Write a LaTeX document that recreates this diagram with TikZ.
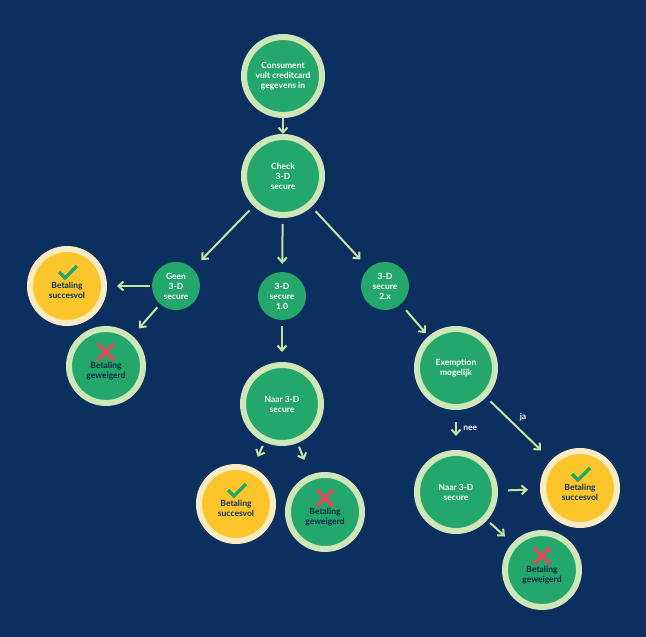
\documentclass[tikz,border=0pt]{standalone}
\usepackage{fontspec}
\setmainfont{Lato}
\usetikzlibrary{arrows.meta,calc}
\definecolor{navy}{HTML}{0B2F5E}
\definecolor{grn}{HTML}{23A76A}
\definecolor{ring}{HTML}{CFE6B8}
\definecolor{yel}{HTML}{FDC52C}
\definecolor{cream}{HTML}{FBEBC2}
\definecolor{arr}{HTML}{C5E3A2}
\definecolor{rd}{HTML}{E2475B}
\tikzset{x=1pt,y=-1pt,
  big/.style={circle,fill=grn,draw=ring,line width=6pt,minimum size=78pt,inner sep=0pt,align=center,text=white,font=\bfseries\fontsize{8.5}{10}\selectfont},
  small/.style={circle,fill=grn,minimum size=48pt,inner sep=0pt,align=center,text=white,font=\bfseries\fontsize{8.5}{10}\selectfont},
  okbox/.style={circle,fill=yel,draw=cream,line width=6pt,minimum size=74pt,inner sep=0pt,align=center,text=navy,font=\bfseries\fontsize{8.5}{10}\selectfont},
  nobox/.style={circle,fill=grn,draw=ring,line width=6pt,minimum size=74pt,inner sep=0pt,align=center,text=navy!80!black,font=\bfseries\fontsize{8.5}{10}\selectfont},
  arw/.style={draw=arr,line width=2pt,-{Straight Barb[length=5pt,width=9pt]},shorten <=6pt,shorten >=7pt},
  lbl/.style={text=white,font=\bfseries\fontsize{8.5}{10}\selectfont}
}
\newcommand{\okmark}[1]{\draw[grn,line width=3.5pt] ($(#1)+(-8,-14)$) -- ($(#1)+(-2,-8)$) -- ($(#1)+(10,-20)$);}
\newcommand{\nomark}[1]{\draw[rd,line width=3.5pt] ($(#1)+(-8,-22)$) -- ($(#1)+(8,-6)$) ($(#1)+(8,-22)$) -- ($(#1)+(-8,-6)$);}
\begin{document}
\begin{tikzpicture}
\fill[navy] (0,0) rectangle (646,637);
\useasboundingbox (0,0) rectangle (646,637);
\node[big] (start) at (283,76) {Consument\\vult creditcard\\gegevens in};
\node[big] (check) at (283,176) {Check\\3-D\\secure};
\node[small] (geen) at (176,286) {Geen\\3-D\\secure};
\node[small] (s10) at (282,296) {3-D\\secure\\1.0};
\node[small] (s2x) at (385,286) {3-D\\secure\\2.x};
\node[okbox] (okL) at (67,286) {\\[6pt]Betaling\\succesvol};
\node[nobox] (noL) at (106,366) {\\[6pt]Betaling\\geweigerd};
\node[big] (naar1) at (282,404) {Naar 3-D\\secure};
\node[okbox] (ok1) at (236,504) {\\[6pt]Betaling\\succesvol};
\node[nobox] (no1) at (325,512) {\\[6pt]Betaling\\geweigerd};
\node[big] (ex) at (456,368) {Exemption\\mogelijk};
\node[big] (naar2) at (456,492) {Naar 3-D\\secure};
\node[okbox] (ok2) at (580,488) {\\[6pt]Betaling\\succesvol};
\node[nobox] (no2) at (542,570) {\\[6pt]Betaling\\geweigerd};
\okmark{okL}\okmark{ok1}\okmark{ok2}
\nomark{noL}\nomark{no1}\nomark{no2}
\draw[arw,shorten <=-1pt,shorten >=0pt] (start) -- (check);
\draw[arw,shorten >=12pt] (check) -- (geen);
\draw[arw,shorten >=8pt] (check) -- (s10);
\draw[arw,shorten >=12pt] (check) -- (s2x);
\draw[arw,shorten <=2pt,shorten >=10pt] (geen) -- (okL);
\draw[arw,shorten <=4pt,shorten >=10pt] (geen) -- (noL);
\draw[arw,shorten >=10pt] (s10) -- (naar1);
\draw[arw,shorten <=8pt,shorten >=4pt] (s2x) -- (ex);
\draw[arw,shorten <=4pt,shorten >=12pt] (naar1) -- (ok1);
\draw[arw,shorten <=4pt,shorten >=16pt] (naar1) -- (no1);
\draw[arw,shorten <=12pt,shorten >=14pt] (ex) -- node[lbl,right=3pt,pos=0.45]{nee} (naar2);
\draw[arw,shorten <=6pt,shorten >=14pt] (ex) -- node[lbl,above right,pos=0.45]{ja} (ok2);
\draw[arw,shorten <=10pt,shorten >=12pt] (naar2) -- (ok2);
\draw[arw,shorten <=4pt,shorten >=10pt] (naar2) -- (no2);
\end{tikzpicture}
\end{document}
